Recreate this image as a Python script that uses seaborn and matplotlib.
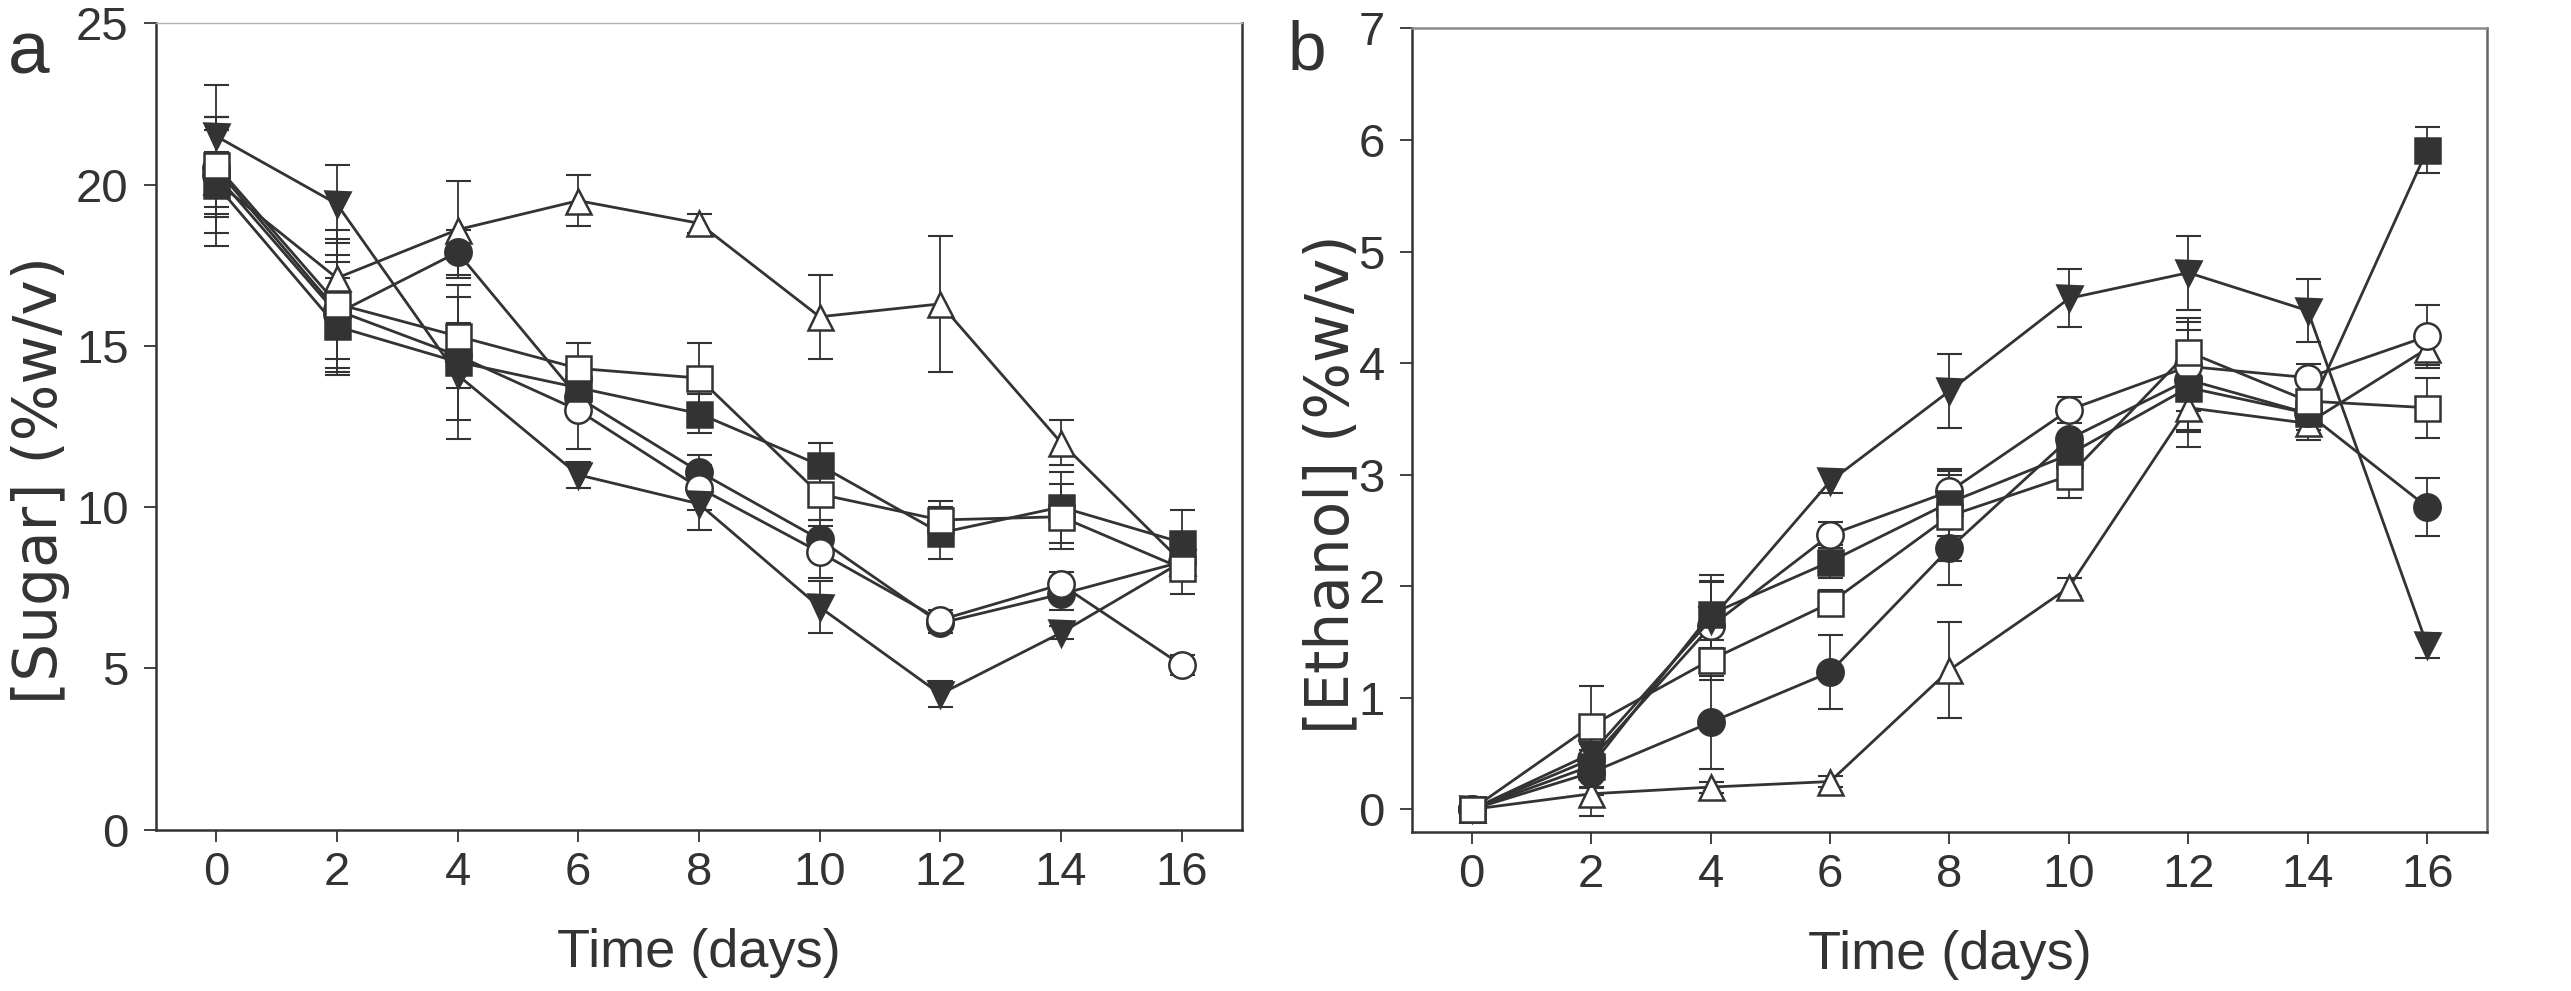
import numpy as np
import pandas as pd
import seaborn as sns
import matplotlib.pyplot as plt

days = [0, 2, 4, 6, 8, 10, 12, 14, 16]

# panel a: sugar (%w/v)
sugar_sq_filled = [20.0, 15.6, 14.5, 13.7, 12.9, 11.3, 9.2, 10.0, 8.9]
sugar_sq_open = [20.6, 16.3, 15.3, 14.3, 14.0, 10.4, 9.6, 9.7, 8.1]
sugar_ci_filled = [20.3, 16.0, 17.9, 13.4, 11.1, 9.0, 6.4, 7.3, 8.3]
sugar_ci_open = [20.5, 16.1, 14.7, 13.0, 10.6, 8.6, 6.5, 7.6, 5.1]
sugar_tri_down = [21.5, 19.4, 14.1, 11.0, 10.1, 6.9, 4.2, 6.1, 8.3]
sugar_tri_up = [20.1, 17.1, 18.6, 19.5, 18.8, 15.9, 16.3, 12.0, 8.3]

sugar_err_sq_filled = [1.0, 1.5, 2.4, 0.7, 0.6, 0.7, 0.8, 1.1, 1.0]
sugar_err_sq_open = [1.5, 2.0, 1.2, 0.8, 1.1, 0.8, 0.6, 1.0, 0.8]
sugar_err_ci_filled = [1.8, 1.8, 0.7, 0.6, 0.5, 0.6, 0.3, 0.5, 0.6]
sugar_err_ci_open = [1.2, 1.5, 1.0, 1.2, 0.7, 0.8, 0.3, 0.4, 0.3]
sugar_err_tri_down = [1.6, 1.2, 1.4, 0.4, 0.8, 0.8, 0.4, 0.2, 0.5]
sugar_err_tri_up = [2.0, 1.5, 1.5, 0.8, 0.3, 1.3, 2.1, 0.7, 0.6]

# panel b: ethanol (%w/v)
eth_sq_filled = [0.0, 0.39, 1.75, 2.22, 2.75, 3.18, 3.78, 3.55, 5.91]
eth_sq_open = [0.0, 0.75, 1.34, 1.85, 2.63, 2.99, 4.10, 3.66, 3.60]
eth_ci_filled = [0.0, 0.33, 0.78, 1.23, 2.34, 3.32, 3.85, 3.55, 2.71]
eth_ci_open = [0.0, 0.45, 1.64, 2.46, 2.85, 3.58, 3.97, 3.87, 4.24]
eth_tri_down = [0.0, 0.50, 1.70, 2.94, 3.75, 4.58, 4.81, 4.47, 1.47]
eth_tri_up = [0.0, 0.14, 0.20, 0.25, 1.25, 1.99, 3.60, 3.46, 4.13]

eth_err_sq_filled = [0.03, 0.20, 0.30, 0.15, 0.30, 0.15, 0.40, 0.15, 0.21]
eth_err_sq_open = [0.03, 0.36, 0.18, 0.12, 0.40, 0.20, 0.30, 0.20, 0.27]
eth_err_ci_filled = [0.03, 0.20, 0.42, 0.33, 0.33, 0.20, 0.45, 0.20, 0.26]
eth_err_ci_open = [0.03, 0.25, 0.40, 0.12, 0.15, 0.12, 0.40, 0.12, 0.28]
eth_err_tri_down = [0.03, 0.20, 0.40, 0.10, 0.33, 0.26, 0.33, 0.28, 0.11]
eth_err_tri_up = [0.03, 0.20, 0.05, 0.05, 0.43, 0.08, 0.35, 0.15, 0.15]

# drawing order: first is at the back
series_names = ["tri_up", "ci_filled", "ci_open", "tri_down", "sq_filled", "sq_open"]
dark = "#333333"
markers = {"sq_filled": ("s", dark), "sq_open": ("s", "white"),
           "ci_filled": ("o", dark), "ci_open": ("o", "white"),
           "tri_down": ("v", dark), "tri_up": ("^", "white")}

def long_table(values, errors):
    rows = []
    for name in series_names:
        for d, v, e in zip(days, values[name], errors[name]):
            rows.append({"series": name, "day": d, "value": v, "err": e})
    return pd.DataFrame(rows)

sugar_df = long_table(
    {"sq_filled": sugar_sq_filled, "sq_open": sugar_sq_open, "ci_filled": sugar_ci_filled,
     "ci_open": sugar_ci_open, "tri_down": sugar_tri_down, "tri_up": sugar_tri_up},
    {"sq_filled": sugar_err_sq_filled, "sq_open": sugar_err_sq_open,
     "ci_filled": sugar_err_ci_filled, "ci_open": sugar_err_ci_open,
     "tri_down": sugar_err_tri_down, "tri_up": sugar_err_tri_up})
eth_df = long_table(
    {"sq_filled": eth_sq_filled, "sq_open": eth_sq_open, "ci_filled": eth_ci_filled,
     "ci_open": eth_ci_open, "tri_down": eth_tri_down, "tri_up": eth_tri_up},
    {"sq_filled": eth_err_sq_filled, "sq_open": eth_err_sq_open,
     "ci_filled": eth_err_ci_filled, "ci_open": eth_err_ci_open,
     "tri_down": eth_err_tri_down, "tri_up": eth_err_tri_up})

sns.set_theme(style="ticks")
plt.rcParams["font.family"] = ["Liberation Sans", "DejaVu Sans"]
plt.rcParams["text.color"] = dark
plt.rcParams["axes.labelcolor"] = dark
plt.rcParams["xtick.color"] = dark
plt.rcParams["ytick.color"] = dark

fig = plt.figure(figsize=(25.71, 9.91), dpi=100)
ax_a = fig.add_axes([0.0606, 0.1629, 0.4225, 0.8136])
ax_b = fig.add_axes([0.5492, 0.1607, 0.4181, 0.8107])

def draw_panel(ax, df):
    for name in series_names:
        sub = df[df["series"] == name]
        mk, face = markers[name]
        ax.errorbar(sub["day"], sub["value"], yerr=sub["err"], fmt="none",
                    ecolor=dark, elinewidth=1.3, capsize=9, capthick=1.5, zorder=1)
        sns.lineplot(data=sub, x="day", y="value", ax=ax, color=dark, lw=2.0,
                     marker=mk, markersize=19 if mk == "o" else 18,
                     markerfacecolor=face, markeredgecolor=dark,
                     markeredgewidth=1.8, errorbar=None, legend=False, zorder=3)
    ax.set_xlim(-1, 17)
    ax.set_xticks(days)
    ax.tick_params(axis="both", direction="out", length=8.6, width=1.3,
                   labelsize=34, colors=dark)
    ax.tick_params(axis="x", pad=7)
    ax.tick_params(axis="y", pad=11)
    ax.set_xlabel("Time (days)", fontsize=39)
    ax.xaxis.set_label_coords(0.5, -0.122)
    for side in ["left", "bottom", "right", "top"]:
        ax.spines[side].set_visible(True)
        ax.spines[side].set_linewidth(1.8)
        ax.spines[side].set_color(dark)

draw_panel(ax_a, sugar_df)
ax_a.set_ylim(0, 25)
ax_a.set_yticks([0, 5, 10, 15, 20, 25])
ax_a.spines["top"].set_color("#b0b0b0")
ax_a.spines["top"].set_linewidth(1.0)
ax_a.set_ylabel("[Sugar] (%w/v)", fontsize=43, family="DejaVu Sans")
ax_a.yaxis.set_label_coords(-0.079, 0.434)

draw_panel(ax_b, eth_df)
ax_b.set_ylim(-0.2, 7)
ax_b.set_yticks(range(0, 8))
ax_b.spines["top"].set_color("#8a8a8a")
ax_b.spines["right"].set_color("#666666")
ax_b.set_ylabel("[Ethanol] (%w/v)", fontsize=43, family="DejaVu Sans")
ax_b.yaxis.set_label_coords(-0.047, 0.433)

fig.text(8 / 2571, 1 - 74 / 991, "a", fontsize=54, ha="left", va="baseline", color=dark)
fig.text(1288 / 2571, 1 - 70 / 991, "b", fontsize=50, ha="left", va="baseline", color=dark)

fig.savefig("out.png", dpi=100, facecolor="white")
